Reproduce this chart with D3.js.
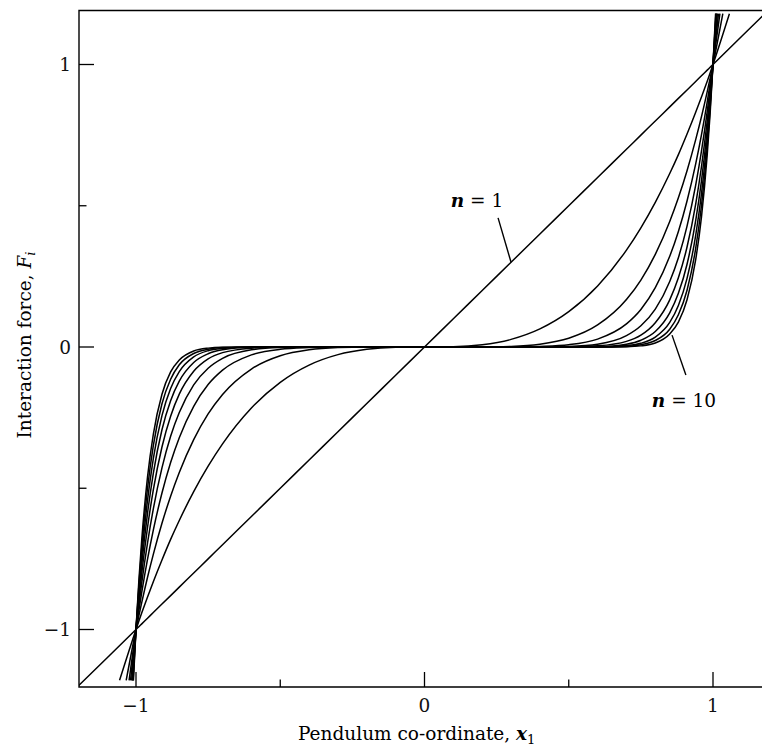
<!DOCTYPE html>
<html>
<head>
<meta charset="utf-8">
<script src="https://cdn.jsdelivr.net/npm/d3@7"></script>
<style>
  html, body { margin: 0; padding: 0; background: #fff; }
  svg { display: block; font-family: "DejaVu Serif", "Liberation Serif", serif; }
  .curve { fill: none; stroke: #000; stroke-width: 1.5; }
  .frame { fill: none; stroke: #000; stroke-width: 1.4; }
  .tick line { stroke: #000; stroke-width: 1.3; }
  .tick-label { font-size: 18.5px; fill: #111; }
</style>
</head>
<body>
<div id="chart"></div>
<script>
// Datos (lado x < 0 y x > 0)
const xGrid = [-1, -0.99, -0.98, -0.96, -0.94, -0.91, -0.88, -0.85, -0.8, -0.75, -0.7, -0.6, -0.5, -0.4, -0.3, -0.2, -0.1,
  0, 0.1, 0.2, 0.3, 0.4, 0.5, 0.6, 0.7, 0.75, 0.8, 0.85, 0.88, 0.91, 0.94, 0.96, 0.98, 0.99, 1];

const seriesN1 = [-1, -0.99, -0.98, -0.96, -0.94, -0.91, -0.88, -0.85, -0.8, -0.75, -0.7, -0.6, -0.5, -0.4, -0.3, -0.2, -0.1,
  0, 0.1, 0.2, 0.3, 0.4, 0.5, 0.6, 0.7, 0.75, 0.8, 0.85, 0.88, 0.91, 0.94, 0.96, 0.98, 0.99, 1];
const seriesN2 = [-1, -0.970, -0.941, -0.885, -0.831, -0.754, -0.681, -0.614, -0.512, -0.422, -0.343, -0.216, -0.125, -0.064, -0.027, -0.008, -0.001,
  0, 0.001, 0.008, 0.027, 0.064, 0.125, 0.216, 0.343, 0.422, 0.512, 0.614, 0.681, 0.754, 0.831, 0.885, 0.941, 0.970, 1];
const seriesN3 = [-1, -0.951, -0.904, -0.815, -0.734, -0.624, -0.528, -0.444, -0.328, -0.237, -0.168, -0.078, -0.031, -0.010, -0.002, 0, 0,
  0, 0, 0, 0.002, 0.010, 0.031, 0.078, 0.168, 0.237, 0.328, 0.444, 0.528, 0.624, 0.734, 0.815, 0.904, 0.951, 1];
const seriesN4 = [-1, -0.932, -0.868, -0.751, -0.648, -0.517, -0.409, -0.321, -0.210, -0.133, -0.082, -0.028, -0.008, -0.002, 0, 0, 0,
  0, 0, 0, 0, 0.002, 0.008, 0.028, 0.082, 0.133, 0.210, 0.321, 0.409, 0.517, 0.648, 0.751, 0.868, 0.932, 1];
const seriesN5 = [-1, -0.914, -0.834, -0.693, -0.573, -0.428, -0.316, -0.232, -0.134, -0.075, -0.040, -0.010, -0.002, 0, 0, 0, 0,
  0, 0, 0, 0, 0, 0.002, 0.010, 0.040, 0.075, 0.134, 0.232, 0.316, 0.428, 0.573, 0.693, 0.834, 0.914, 1];
const seriesN6 = [-1, -0.895, -0.801, -0.638, -0.506, -0.354, -0.245, -0.167, -0.086, -0.042, -0.020, -0.004, 0, 0, 0, 0, 0,
  0, 0, 0, 0, 0, 0, 0.004, 0.020, 0.042, 0.086, 0.167, 0.245, 0.354, 0.506, 0.638, 0.801, 0.895, 1];
const seriesN7 = [-1, -0.878, -0.769, -0.588, -0.447, -0.293, -0.190, -0.121, -0.055, -0.024, -0.010, -0.001, 0, 0, 0, 0, 0,
  0, 0, 0, 0, 0, 0, 0.001, 0.010, 0.024, 0.055, 0.121, 0.190, 0.293, 0.447, 0.588, 0.769, 0.878, 1];
const seriesN8 = [-1, -0.860, -0.739, -0.542, -0.395, -0.243, -0.147, -0.087, -0.035, -0.013, -0.005, 0, 0, 0, 0, 0, 0,
  0, 0, 0, 0, 0, 0, 0, 0.005, 0.013, 0.035, 0.087, 0.147, 0.243, 0.395, 0.542, 0.739, 0.860, 1];
const seriesN9 = [-1, -0.843, -0.709, -0.500, -0.349, -0.201, -0.114, -0.063, -0.023, -0.008, -0.002, 0, 0, 0, 0, 0, 0,
  0, 0, 0, 0, 0, 0, 0, 0.002, 0.008, 0.023, 0.063, 0.114, 0.201, 0.349, 0.500, 0.709, 0.843, 1];
const seriesN10 = [-1, -0.826, -0.681, -0.460, -0.309, -0.167, -0.088, -0.046, -0.014, -0.004, -0.001, 0, 0, 0, 0, 0, 0,
  0, 0, 0, 0, 0, 0, 0, 0.001, 0.004, 0.014, 0.046, 0.088, 0.167, 0.309, 0.460, 0.681, 0.826, 1];

// Extremos de cada curva (más allá de |x| = 1)
const endX = [1.2, 1.057, 1.034, 1.024, 1.019, 1.015, 1.013, 1.011, 1.010, 1.009];
const endY = [1.2, 1.18, 1.18, 1.18, 1.18, 1.18, 1.18, 1.18, 1.18, 1.18];

const xTicksMajor = [-1, 0, 1];
const xTicksMinor = [-0.5, 0.5];
const yTicksMajor = [-1, 0, 1];
const yTicksMinor = [-0.5, 0.5];

const allSeries = [seriesN1, seriesN2, seriesN3, seriesN4, seriesN5, seriesN6, seriesN7, seriesN8, seriesN9, seriesN10];

const config = {
  width: 762,
  height: 749,
  box: { left: 79, top: 10.5, bottom: 687, right: 775 },
  majorTick: 15,
  minorTick: 7.5
};

const svg = d3.select("#chart").append("svg")
  .attr("width", config.width)
  .attr("height", config.height);

// Escalas
const x = d3.scaleLinear().domain([-1, 1]).range([136, 713]);
const y = d3.scaleLinear().domain([-1, 1]).range([629.5, 64.5]);

svg.append("clipPath").attr("id", "plot-clip")
  .append("rect")
  .attr("x", config.box.left)
  .attr("y", config.box.top)
  .attr("width", config.box.right - config.box.left)
  .attr("height", config.box.bottom - config.box.top);

// Curvas
const line = d3.line()
  .x(d => x(d[0]))
  .y(d => y(d[1]))
  .curve(d3.curveMonotoneX);

const curves = svg.append("g").attr("clip-path", "url(#plot-clip)");
allSeries.forEach((values, i) => {
  const pts = [[-endX[i], -endY[i]]]
    .concat(xGrid.map((xv, j) => [xv, values[j]]))
    .concat([[endX[i], endY[i]]]);
  curves.append("path")
    .attr("class", "curve")
    .attr("d", line(pts));
});

// Marco
svg.append("path")
  .attr("class", "frame")
  .attr("d", `M${config.box.right},${config.box.top}H${config.box.left}V${config.box.bottom}H${config.box.right}`);

// Marcas del eje x (hacia dentro)
const ticks = svg.append("g").attr("class", "tick");
xTicksMajor.concat(xTicksMinor).forEach(t => {
  const len = xTicksMajor.includes(t) ? config.majorTick : config.minorTick;
  ticks.append("line")
    .attr("x1", x(t)).attr("x2", x(t))
    .attr("y1", config.box.bottom).attr("y2", config.box.bottom - len);
});
yTicksMajor.concat(yTicksMinor).forEach(t => {
  const len = yTicksMajor.includes(t) ? config.majorTick : config.minorTick;
  ticks.append("line")
    .attr("x1", config.box.left).attr("x2", config.box.left + len)
    .attr("y1", y(t)).attr("y2", y(t));
});

const fmt = t => (t < 0 ? "\u2212" : "") + Math.abs(t);

svg.append("g").selectAll("text")
  .data(xTicksMajor)
  .join("text")
  .attr("class", "tick-label")
  .attr("x", d => x(d))
  .attr("y", 712)
  .attr("text-anchor", "middle")
  .text(fmt);

svg.append("g").selectAll("text")
  .data(yTicksMajor)
  .join("text")
  .attr("class", "tick-label")
  .attr("x", 71)
  .attr("y", d => y(d))
  .attr("dy", "0.36em")
  .attr("text-anchor", "end")
  .text(fmt);

// Títulos de los ejes
const xTitle = svg.append("text")
  .attr("x", 298)
  .attr("y", 740)
  .style("font-size", "18.5px");
xTitle.append("tspan").text("Pendulum co-ordinate, ");
xTitle.append("tspan").style("font-style", "italic").style("font-weight", "bold").text("x");
xTitle.append("tspan").attr("dy", 4).style("font-size", "13px").text("1");

const yTitle = svg.append("text")
  .attr("transform", "translate(31,345) rotate(-90)")
  .attr("text-anchor", "middle")
  .style("font-size", "18.5px");
yTitle.append("tspan").text("Interaction force, ");
yTitle.append("tspan").style("font-style", "italic").text("F");
yTitle.append("tspan").attr("dy", 4).style("font-size", "13px").style("font-style", "italic").text("i");

// Anotaciones n = 1 y n = 10
function addLabel(textX, textY, lx1, ly1, lx2, ly2, value) {
  svg.append("line")
    .attr("x1", x(lx1)).attr("y1", y(ly1))
    .attr("x2", x(lx2)).attr("y2", y(ly2))
    .attr("stroke", "#000").attr("stroke-width", 1.4);
  const t = svg.append("text")
    .attr("x", x(textX)).attr("y", y(textY))
    .attr("text-anchor", "middle")
    .style("font-size", "18.5px");
  t.append("tspan").style("font-style", "italic").style("font-weight", "bold").text("n");
  t.append("tspan").text(" = " + value);
}

addLabel(0.182, 0.496, 0.255, 0.457, 0.30, 0.30, 1);
addLabel(0.8995, -0.212, 0.858, 0.042, 0.906, -0.099, 10);
</script>
</body>
</html>
